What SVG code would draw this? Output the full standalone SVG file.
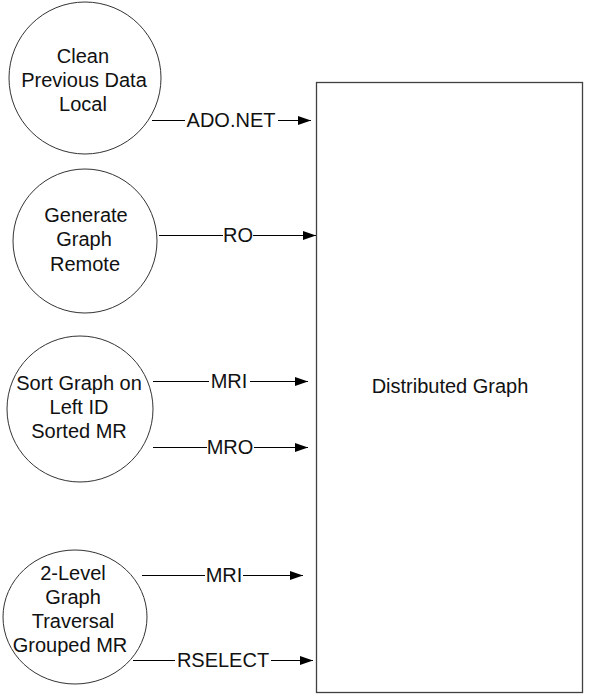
<svg xmlns="http://www.w3.org/2000/svg" width="589" height="697" viewBox="0 0 589 697">
<defs>
<marker id="arr" markerWidth="13" markerHeight="9" refX="13" refY="4.5" orient="auto" markerUnits="userSpaceOnUse">
<path d="M0,0 L13,4.5 L0,9 Z" fill="#000"/>
</marker>
<style>
.node{fill:#fff;stroke:#333;stroke-width:1}
.box{fill:#fff;stroke:#404040;stroke-width:1.3}
text{font-family:"Liberation Sans",Arial,sans-serif;font-size:20px;fill:#111;text-anchor:middle}
.conn{stroke:#000;stroke-width:1;fill:none;marker-end:url(#arr)}
.lbg{fill:#fff}
</style>
</defs>
<rect width="589" height="697" fill="#fff"/>
<g id="distributed-graph">
<rect class="box" x="316.5" y="82.5" width="266" height="610"/>
<text x="450" y="393">Distributed Graph</text>
</g>
<g id="clean-previous-data">
<circle class="node" cx="85" cy="78" r="76"/>
<text x="83" y="63">Clean</text>
<text x="84" y="87">Previous Data</text>
<text x="83" y="111">Local</text>
</g>
<g id="generate-graph">
<circle class="node" cx="85" cy="241" r="72"/>
<text x="86" y="222">Generate</text>
<text x="84" y="246">Graph</text>
<text x="85" y="271">Remote</text>
</g>
<g id="sort-graph">
<circle class="node" cx="80" cy="409" r="73"/>
<text x="79" y="390">Sort Graph on</text>
<text x="79" y="414">Left ID</text>
<text x="79" y="438">Sorted MR</text>
</g>
<g id="graph-traversal">
<ellipse class="node" cx="75" cy="617" rx="72" ry="67"/>
<text x="73" y="580">2-Level</text>
<text x="73" y="604">Graph</text>
<text x="73" y="628">Traversal</text>
<text x="70" y="652">Grouped MR</text>
</g>
<g id="connectors">
<line class="conn" x1="152" y1="120.5" x2="311" y2="120.5"/>
<rect class="lbg" x="185" y="110" width="93" height="20"/>
<text x="231" y="127">ADO.NET</text>
<line class="conn" x1="159" y1="235.5" x2="316" y2="235.5"/>
<rect class="lbg" x="223" y="225" width="30" height="20"/>
<text x="238" y="242">RO</text>
<line class="conn" x1="153" y1="381.5" x2="308" y2="381.5"/>
<rect class="lbg" x="209" y="371" width="41" height="20"/>
<text x="229" y="388">MRI</text>
<line class="conn" x1="153" y1="447.5" x2="308" y2="447.5"/>
<rect class="lbg" x="207" y="437" width="47" height="20"/>
<text x="230" y="454">MRO</text>
<line class="conn" x1="142" y1="575.5" x2="303" y2="575.5"/>
<rect class="lbg" x="205" y="565" width="38" height="20"/>
<text x="224" y="582">MRI</text>
<line class="conn" x1="133" y1="660.5" x2="313" y2="660.5"/>
<rect class="lbg" x="175" y="650" width="96" height="20"/>
<text x="223" y="667">RSELECT</text>
</g>
</svg>
